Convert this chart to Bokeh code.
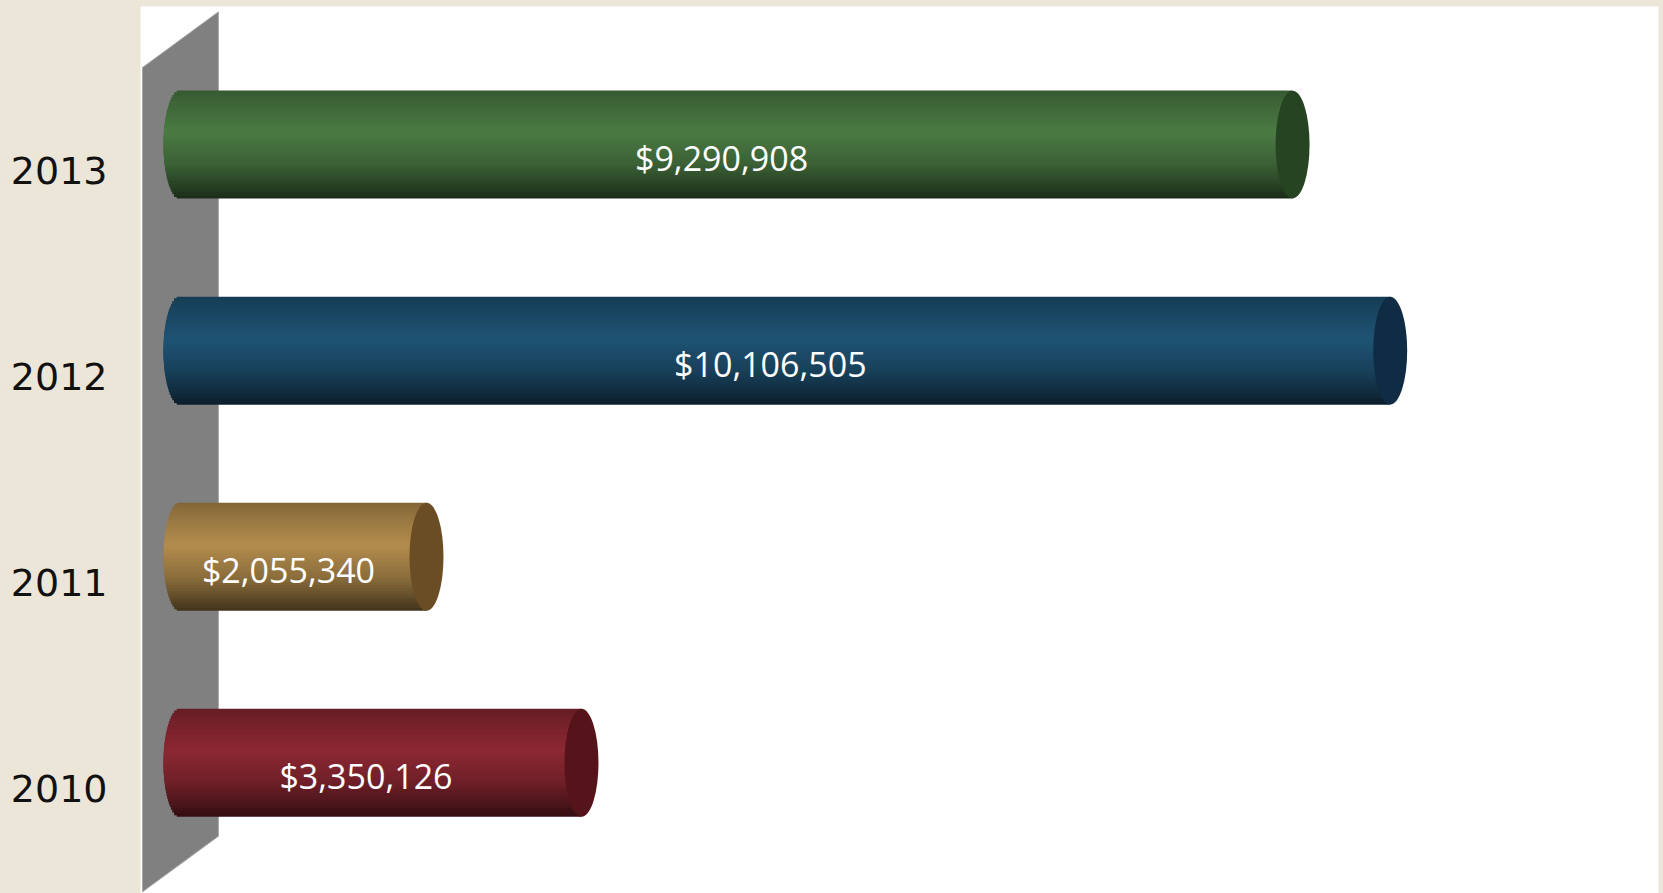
import numpy as np
from bokeh.plotting import figure
from bokeh.models import Range1d, FixedTicker, ColumnDataSource
from bokeh.core.properties import value
from bokeh.embed import file_html
from bokeh.resources import INLINE

# ---- data (top to bottom) ----
years = ["2013", "2012", "2011", "2010"]
amounts = [9290908, 10106505, 2055340, 3350126]
labels = ["$9,290,908", "$10,106,505", "$2,055,340", "$3,350,126"]
base_colors = ["#4B7B43", "#1F5374", "#B38D4D", "#8D2833"]
cap_colors = ["#264421", "#0F2C44", "#6A4D25", "#541419"]

BEIGE = "#ECE6D8"
n = len(years)

p = figure(width=1663, height=893, output_backend="svg", toolbar_location=None,
           x_range=Range1d(-334000, 12348000), y_range=Range1d(3.508, -0.796),
           x_axis_location=None, y_axis_location="left",
           min_border_left=140, min_border_right=5, min_border_top=6, min_border_bottom=0)
p.border_fill_color = BEIGE
p.background_fill_color = "white"
p.outline_line_color = None
p.grid.visible = False

# y axis with year labels
ax = p.yaxis[0]
ax.ticker = FixedTicker(ticks=list(range(n)))
ax.major_label_overrides = {i: y for i, y in enumerate(years)}
ax.major_label_text_font = "DejaVu Sans"
ax.major_label_text_font_size = "38px"
ax.major_label_text_color = "#111111"
ax.major_label_standoff = 27
ax.axis_line_color = None
ax.major_tick_line_color = None
ax.minor_tick_line_color = None

# 3D back wall (decoration)
depth = 0.27
wall_half = 317000
p.patch([-wall_half, wall_half, wall_half, -wall_half],
        [-0.5, -0.5 - depth, n - 0.5 - depth, n - 0.5],
        fill_color="#808080", line_color="#A8A8A8", line_width=1)

# cylinders
shift = 0.126       # bars sit slightly above their labels (perspective)
h = 0.524           # bar thickness in category units
a = 142000          # half width of end ellipse (data units)
N = 40
prof_t = [0.0, 0.12, 0.40, 0.70, 0.90, 1.0]
prof_f = [0.72, 0.82, 1.0, 0.78, 0.52, 0.36]


def scale(hexc, f):
    r, g, b = (int(hexc[i:i + 2], 16) for i in (1, 3, 5))
    return "#%02x%02x%02x" % tuple(int(max(0, min(255, c * f))) for c in (r, g, b))


yc_list = [i - shift for i in range(n)]

# solid underlay so that strip seams do not show the background
under = [scale(c, 0.8) for c in base_colors]
p.hbar(y=yc_list, height=h * 0.96, left=0, right=amounts, fill_color=under, line_color=None)
p.ellipse(x=[0] * n, y=yc_list, width=2 * a, height=h * 0.96, fill_color=under, line_color=None)

ys, hs, lefts, rights, cols = [], [], [], [], []
for i, (v, c) in enumerate(zip(amounts, base_colors)):
    yc = yc_list[i]
    for k in range(N):
        t = (k + 0.5) / N
        u = 2 * t - 1
        ys.append(yc - h / 2 + t * h)
        hs.append(h / N * (1.0 if k in (0, N - 1) else 1.8))
        lefts.append(-a * np.sqrt(max(0.0, 1 - u * u)))
        rights.append(v)
        cols.append(scale(c, float(np.interp(t, prof_t, prof_f))))

p.hbar(y=ys, height=hs, left=lefts, right=rights, fill_color=cols, line_color=None)

p.ellipse(x=amounts, y=yc_list, width=2 * a, height=h,
          fill_color=cap_colors, line_color=None)

src = ColumnDataSource(dict(x=[v / 2 for v in amounts], y=yc_list, t=labels))
p.text(x="x", y="y", text="t", source=src, x_offset=-15, y_offset=13,
       text_font=value("Open Sans"), text_font_size="34px", text_color="white",
       text_align="center", text_baseline="middle")

html = file_html(p, INLINE)
html = html.replace("</head>", "<style>html,body{background:%s;}</style></head>" % BEIGE, 1)
open("out.html", "w").write(html)
